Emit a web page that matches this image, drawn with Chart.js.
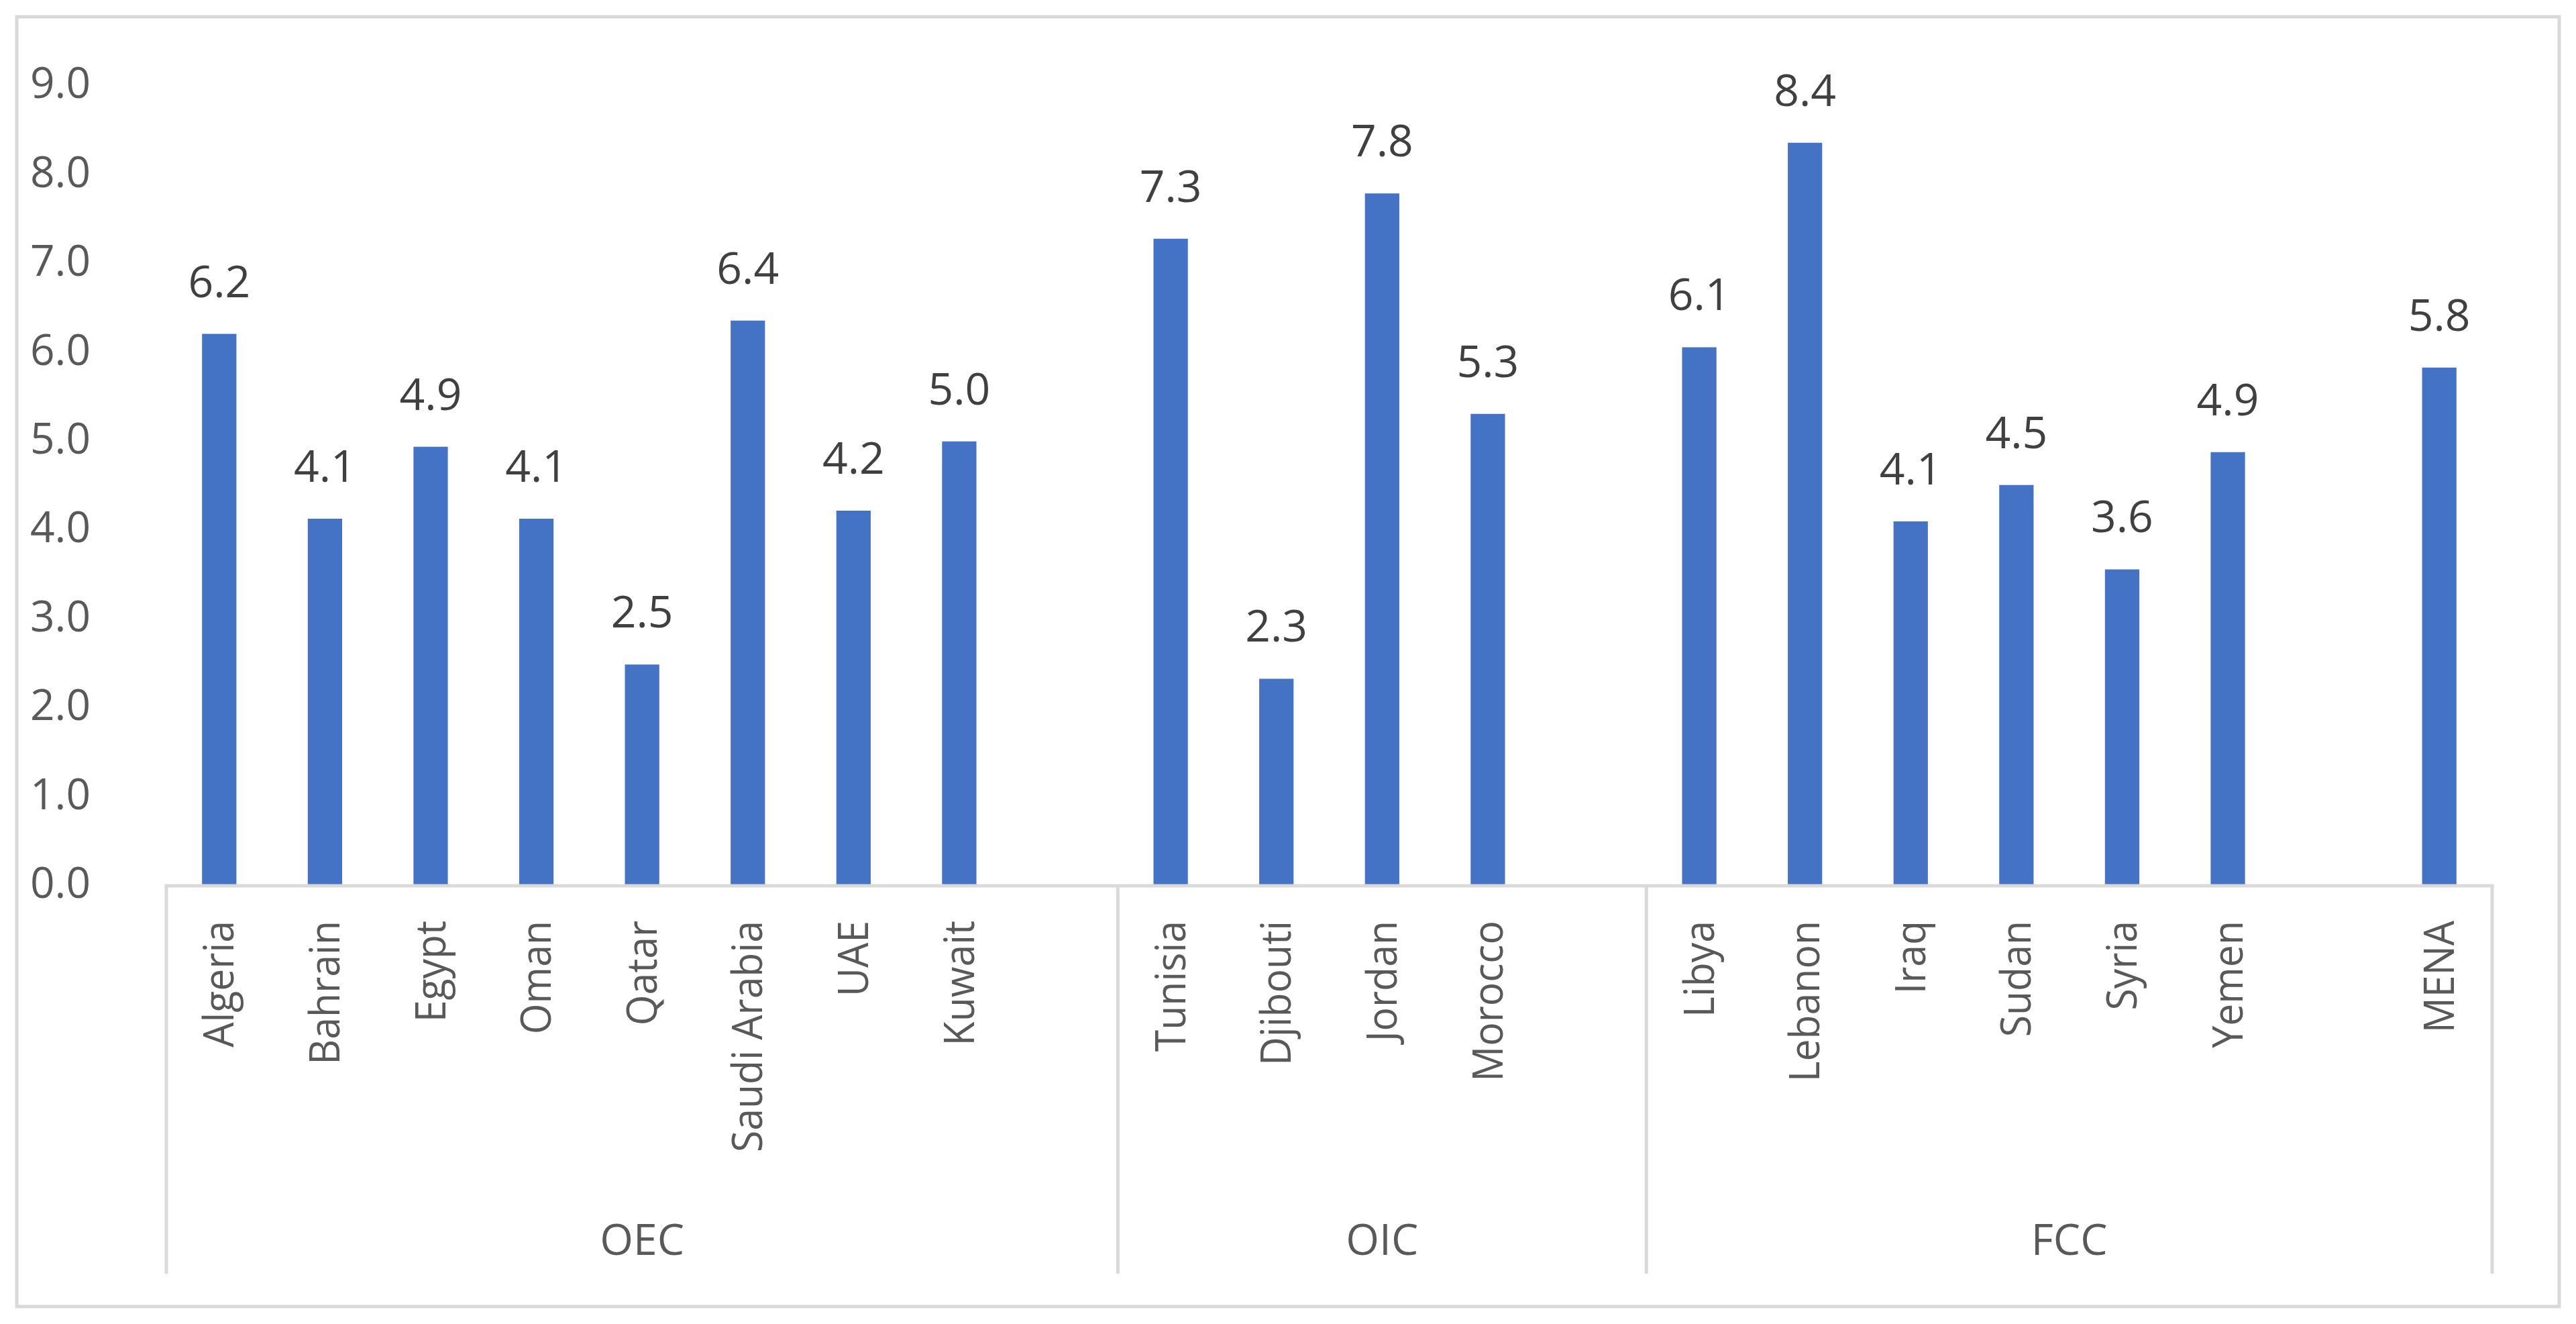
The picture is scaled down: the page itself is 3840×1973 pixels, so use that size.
<!DOCTYPE html>
<html><head><meta charset="utf-8">
<script src="https://cdn.jsdelivr.net/npm/chart.js@4.4.1/dist/chart.umd.min.js"></script>
<style>html,body{margin:0;padding:0;background:#fff;overflow:hidden}#wrap{width:3840px;height:1973px;position:relative}</style>
</head><body><div id="wrap"><canvas id="c" width="3840" height="1973"></canvas></div>
<script>
const categories = ['Algeria','Bahrain','Egypt','Oman','Qatar','Saudi Arabia','UAE','Kuwait','',
  'Tunisia','Djibouti','Jordan','Morocco','',
  'Libya','Lebanon','Iraq','Sudan','Syria','Yemen','',
  'MENA'];
const values = [6.21,4.13,4.94,4.13,2.49,6.36,4.22,5.0,null,
  7.28,2.33,7.79,5.31,null,
  6.06,8.36,4.1,4.51,3.56,4.88,null,
  5.83];
const groupLabels = ['OEC','OIC','FCC'];
const groupStarts = [0,9,14];
const groupEnds = [8,13,21];
const yMin = 0, yMax = 9, yStep = 1;

const LINE = '#d9d9d9';
const FONT = '"Open Sans"';

const decor = {
  id: 'decor',
  beforeDraw(chart) {
    const ctx = chart.ctx;
    ctx.save();
    ctx.fillStyle = '#fff';
    ctx.fillRect(0, 0, chart.width, chart.height);
    ctx.strokeStyle = LINE;
    ctx.lineWidth = 5;
    ctx.strokeRect(25, 25, 3790, 1922);
    ctx.restore();
  },
  afterDatasetsDraw(chart) {
    const ctx = chart.ctx;
    const meta = chart.getDatasetMeta(0);
    ctx.save();
    ctx.fillStyle = '#404040';
    ctx.font = '66px ' + FONT;
    ctx.textAlign = 'center';
    ctx.textBaseline = 'alphabetic';
    meta.data.forEach((bar, i) => {
      const v = values[i];
      if (v === null || v === undefined) return;
      ctx.fillText(v.toFixed(1), bar.x, bar.y - 55);
    });
    ctx.restore();
  },
  afterDraw(chart) {
    const ctx = chart.ctx;
    const x = chart.scales.x;
    const area = chart.chartArea;
    const yAxis = area.bottom;
    const yEnd = 1898;
    ctx.save();
    ctx.strokeStyle = LINE;
    ctx.lineWidth = 5;
    ctx.beginPath();
    ctx.moveTo(x.left - 2.5, yAxis);
    ctx.lineTo(x.right + 2.5, yAxis);
    ctx.stroke();
    const bounds = new Set();
    groupStarts.forEach(s => bounds.add(s - 0.5));
    groupEnds.forEach(e => bounds.add(e + 0.5));
    bounds.forEach(b => {
      const px = x.getPixelForValue(b);
      ctx.beginPath();
      ctx.moveTo(px, yAxis);
      ctx.lineTo(px, yEnd);
      ctx.stroke();
    });
    // category labels (rotated)
    ctx.fillStyle = '#595959';
    ctx.font = '62px ' + FONT;
    ctx.textAlign = 'right';
    ctx.textBaseline = 'middle';
    categories.forEach((c, i) => {
      if (!c) return;
      const px = x.getPixelForValue(i);
      ctx.save();
      ctx.translate(px + 4, yAxis + 52);
      ctx.rotate(-Math.PI / 2);
      ctx.scale(0.95, 1);
      ctx.fillText(c, 0, 0);
      ctx.restore();
    });
    // group labels
    ctx.font = '64px ' + FONT;
    ctx.textAlign = 'center';
    ctx.textBaseline = 'middle';
    groupLabels.forEach((g, i) => {
      const a = x.getPixelForValue(groupStarts[i] - 0.5);
      const b = x.getPixelForValue(groupEnds[i] + 0.5);
      ctx.fillText(g, (a + b) / 2, 1852);
    });
    ctx.restore();
  }
};

new Chart(document.getElementById('c'), {
  type: 'bar',
  data: {
    labels: categories,
    datasets: [{
      data: values,
      backgroundColor: '#4472C4',
      borderWidth: 0,
      barPercentage: 0.325,
      categoryPercentage: 1.0
    }]
  },
  options: {
    responsive: false,
    animation: false,
    devicePixelRatio: 1,
    layout: { padding: { left: 45, right: 125, top: 128, bottom: 75 } },
    plugins: { legend: { display: false }, tooltip: { enabled: false } },
    scales: {
      x: {
        grid: { display: false, drawTicks: false },
        border: { display: false },
        ticks: { display: false, autoSkip: false },
        afterFit(scale) { scale.height = 578; }
      },
      y: {
        min: yMin, max: yMax,
        grid: { display: false, drawTicks: false },
        border: { display: false },
        ticks: {
          stepSize: yStep, padding: 0, crossAlign: 'far', color: '#595959',
          font: { family: FONT, size: 64 },
          callback: v => Number(v).toFixed(1)
        },
        afterFit(scale) { scale.width = 203; }
      }
    }
  },
  plugins: [decor]
});
</script></body></html>
